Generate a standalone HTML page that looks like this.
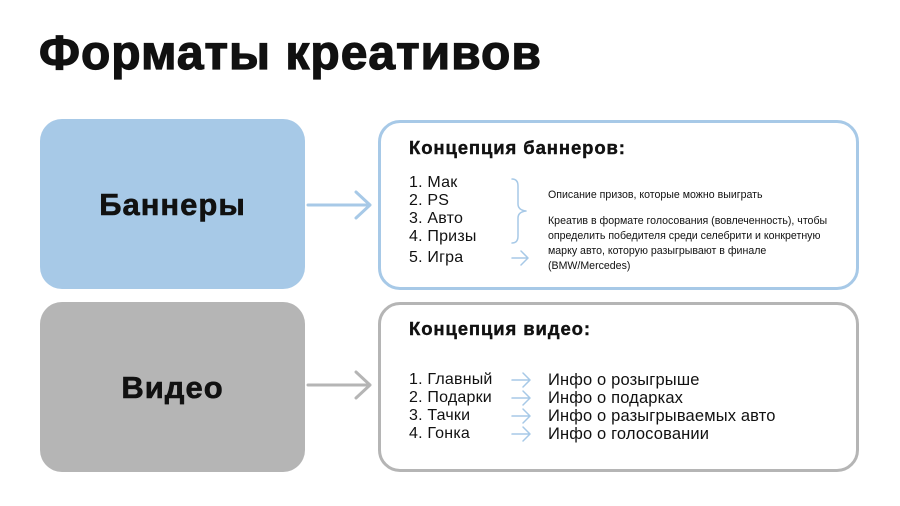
<!DOCTYPE html>
<html><head><meta charset="utf-8"><style>
body{margin:0;width:900px;height:506px;background:#fff;position:relative;overflow:hidden;font-family:"Liberation Sans","DejaVu Sans",sans-serif;color:#111}
.a{position:absolute;white-space:nowrap}
.box{position:absolute;border-radius:22px}
.l{font-size:16px;line-height:18px;letter-spacing:0.2px}
.s{font-size:10.6px;line-height:15px}
.h{font-size:18.5px;font-weight:bold;letter-spacing:0.9px;-webkit-text-stroke:0.4px #111}
</style></head><body>
<div class="a" style="left:39px;top:26px;font-size:48px;font-weight:bold;letter-spacing:1px;-webkit-text-stroke:1.2px #111">Форматы креативов</div>
<div class="box" style="left:40px;top:119px;width:265px;height:170px;background:#a7c9e7"></div>
<div class="box" style="left:40px;top:302px;width:265px;height:170px;background:#b5b5b5"></div>
<div class="a" style="left:40px;top:187px;width:265px;text-align:center;font-size:31px;font-weight:bold;letter-spacing:1px;-webkit-text-stroke:0.6px #111">Баннеры</div>
<div class="a" style="left:40px;top:370px;width:265px;text-align:center;font-size:31px;font-weight:bold;letter-spacing:1px;-webkit-text-stroke:0.6px #111">Видео</div>
<div class="box" style="left:378px;top:120px;width:475px;height:164px;border:3px solid #a7c9e7"></div>
<div class="box" style="left:378px;top:302px;width:475px;height:164px;border:3px solid #b5b5b5"></div>
<svg class="a" style="left:0;top:0" width="900" height="506">
<g fill="none" stroke-width="3" stroke-linecap="round" stroke-linejoin="round">
<path d="M308 205H370M356 192L370 205L356 218" stroke="#a7c9e7"/>
<path d="M308 385H370M356 372L370 385L356 398" stroke="#b5b5b5"/>
<g stroke="#a7c9e7" stroke-width="1.5">
<path d="M512 179Q518 179 518 186V204Q518 210 526 211Q518 212 518 218V236Q518 243 512 243"/>
<path d="M512 258H528M521 251L528 258L521 265"/>
<path d="M512 380H530M523 373L530 380L523 387"/>
<path d="M512 398H530M523 391L530 398L523 405"/>
<path d="M512 416H530M523 409L530 416L523 423"/>
<path d="M512 434H530M523 427L530 434L523 441"/>
</g></g></svg>
<div class="a h" style="left:409px;top:137px">Концепция баннеров:</div>
<div class="a l" style="left:409px;top:174px">1. Мак<br>2. PS<br>3. Авто<br>4. Призы</div>
<div class="a l" style="left:409px;top:249px">5. Игра</div>
<div class="a s" style="left:548px;top:188px">Описание призов, которые можно выиграть</div>
<div class="a s" style="left:548px;top:214px">Креатив в формате голосования (вовлеченность), чтобы<br>определить победителя среди селебрити и конкретную<br>марку авто, которую разыгрывают в финале<br>(BMW/Mercedes)</div>
<div class="a h" style="left:409px;top:318px">Концепция видео:</div>
<div class="a l" style="left:409px;top:371px">1. Главный<br>2. Подарки<br>3. Тачки<br>4. Гонка</div>
<div class="a l" style="left:548px;top:371px;font-size:16.5px;letter-spacing:0.15px">Инфо о розыгрыше<br>Инфо о подарках<br>Инфо о разыгрываемых авто<br>Инфо о голосовании</div>
</body></html>
